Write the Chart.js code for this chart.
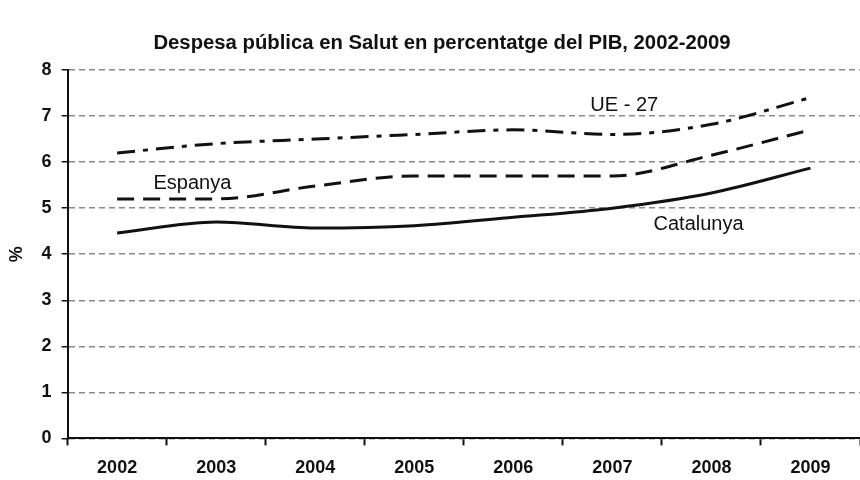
<!DOCTYPE html>
<html>
<head>
<meta charset="utf-8">
<script src="https://cdn.jsdelivr.net/npm/chart.js@4/dist/chart.umd.min.js"></script>
<style>
  html, body { margin: 0; padding: 0; background: #fff; }
  #wrap { width: 860px; height: 480px; }
</style>
</head>
<body>
<div id="wrap"><canvas id="chart" width="860" height="480"></canvas></div>
<script>
// --- dades ---
const years = ['2002', '2003', '2004', '2005', '2006', '2007', '2008', '2009'];
const catalunya = [4.46, 4.70, 4.57, 4.62, 4.80, 5.00, 5.33, 5.87];
const espanya = [5.2, 5.2, 5.48, 5.7, 5.7, 5.7, 6.15, 6.7];
const ue27 = [6.2, 6.4, 6.5, 6.6, 6.7, 6.6, 6.82, 7.4];

// etiquetes de sèrie: [text, índex de categoria, valor]
const seriesLabels = [
  ['UE - 27', 5.12, 7.24],
  ['Espanya', 0.76, 5.54],
  ['Catalunya', 5.87, 4.65]
];

const chartTitle = 'Despesa pública en Salut en percentatge del PIB, 2002-2009';

const FONT = '"Liberation Sans", Arial, sans-serif';

// títol i noms de les sèries
const textPlugin = {
  id: 'textPlugin',
  afterDatasetsDraw(chart) {
    const { ctx, scales: { x, y } } = chart;
    const step = x.getPixelForValue(1) - x.getPixelForValue(0);
    ctx.save();
    ctx.fillStyle = '#111';
    ctx.textAlign = 'center';
    ctx.textBaseline = 'middle';
    ctx.font = 'bold 20.3px ' + FONT;
    ctx.fillText(chartTitle, 442, 43);
    ctx.font = '20px ' + FONT;
    seriesLabels.forEach(([txt, idx, val]) => {
      const px = x.getPixelForValue(0) + idx * step;
      ctx.fillText(txt, px, y.getPixelForValue(val));
    });
    ctx.restore();
  }
};

const line = (label, data, dash) => ({
  label: label,
  data: data,
  borderColor: '#111',
  borderWidth: 3,
  borderDash: dash,
  pointRadius: 0,
  cubicInterpolationMode: 'monotone',
  fill: false
});

new Chart(document.getElementById('chart'), {
  type: 'line',
  data: {
    labels: years,
    datasets: [
      line('UE - 27', ue27, [18, 8, 5, 8]),
      line('Espanya', espanya, [17, 9]),
      line('Catalunya', catalunya, [])
    ]
  },
  options: {
    responsive: false,
    animation: false,
    layout: { padding: { left: 0, right: 0, top: 70, bottom: -11 } },
    plugins: {
      legend: { display: false },
      tooltip: { enabled: false },
      title: { display: false }
    },
    scales: {
      x: {
        offset: true,
        grid: {
          offset: true,
          drawOnChartArea: false,
          drawTicks: true,
          tickLength: 7,
          tickColor: '#111',
          tickWidth: 2
        },
        border: { display: true, color: '#111', width: 2 },
        ticks: {
          color: '#111',
          padding: 12,
          font: { family: FONT, size: 18, weight: 'bold' }
        }
      },
      y: {
        min: 0,
        max: 8,
        ticks: {
          stepSize: 1,
          color: '#111',
          padding: 10,
          font: { family: FONT, size: 18, weight: 'bold' }
        },
        grid: {
          color: '#8a8a8a',
          lineWidth: 1.5,
          tickColor: '#111',
          tickLength: 6,
          tickBorderDash: []
        },
        border: { display: true, color: '#111', width: 2, dash: [6, 4] },
        title: {
          display: true,
          text: '%',
          color: '#111',
          font: { family: FONT, size: 18, weight: 'bold' },
          padding: { top: 6, bottom: 4 }
        }
      }
    }
  },
  plugins: [textPlugin]
});
</script>
</body>
</html>
